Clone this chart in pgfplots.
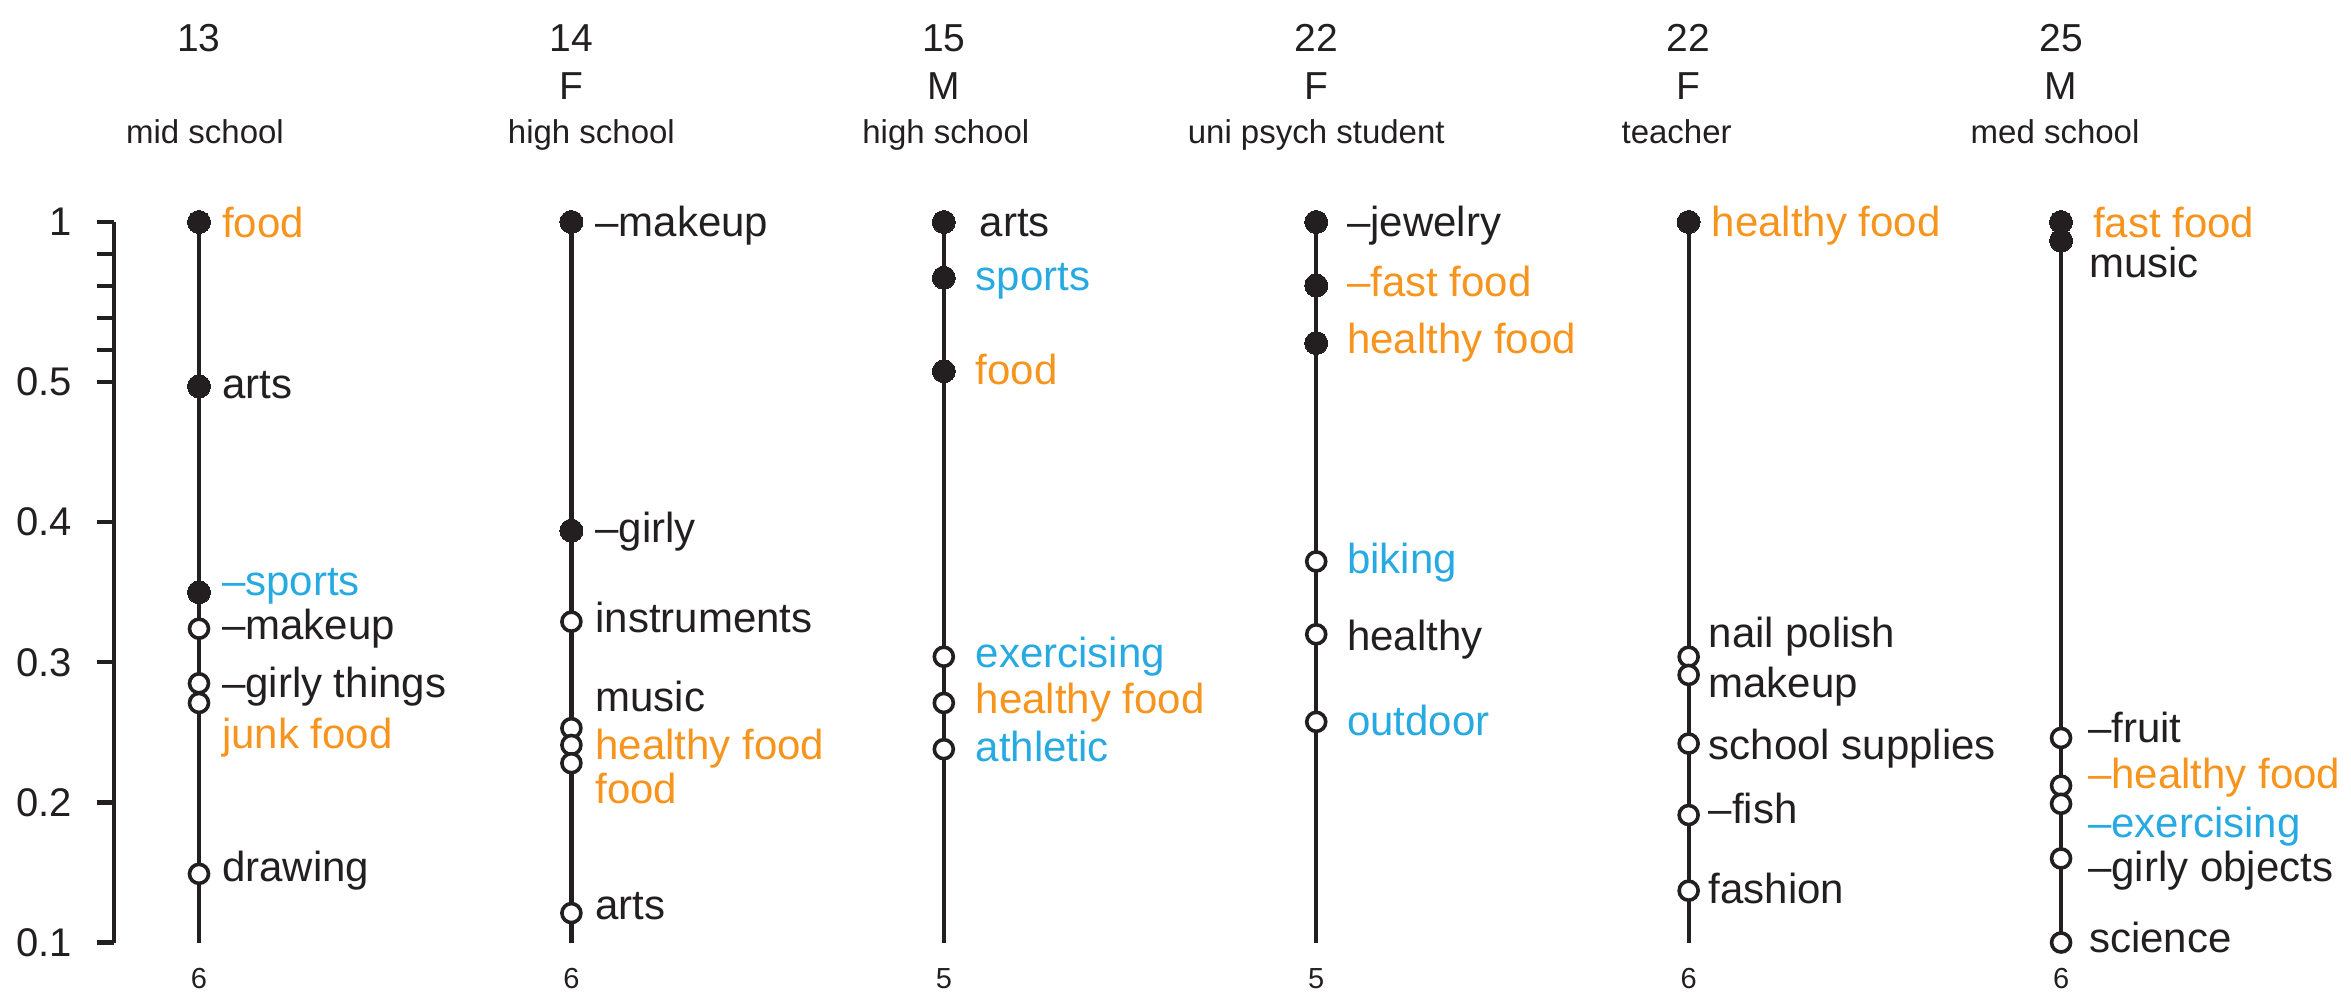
\documentclass[border=0pt]{standalone}
\usepackage{fontspec}
\setmainfont{Liberation Sans}
\usepackage{pgfplots}
\pgfplotsset{compat=1.18}

\definecolor{ink}{HTML}{231F20}
\definecolor{hlorange}{HTML}{F7941D}
\definecolor{hlblue}{HTML}{27AAE1}

% broken y scale: 0.1-0.5 linear, 0.5-1 compressed
\newcommand{\ytrafo}[2]{%
  \begingroup
  \pgfkeys{/pgf/fpu=true, /pgf/fpu/output format=fixed}%
  \pgfmathparse{ifthenelse(#1>0.5, 0.5+(#1-0.5)*#2, #1)}%
  \xdef\ytrafores{\pgfmathresult}%
  \endgroup
  \let\pgfmathresult\ytrafores}

% 1 px of the reference = 0.2pt
% \lab{column}{value}{dx px}{dy px (down)}{colour}{text}
\newcommand{\lab}[6]{\node[anchor=west, inner sep=0pt, text height=4.36pt, text depth=0pt,
  font=\fontsize{8.4}{9}\selectfont, text=#5, xshift=0.2pt*(#3), yshift=-0.2pt*(#4)]
  at (axis cs:#1,#2) {#6};}
% \head{column}{age}{sex}{description}{dx px of description}
\newcommand{\head}[5]{%
  \node[anchor=base, inner sep=0pt, font=\fontsize{7.8}{8}\selectfont, text=ink, yshift=34.06pt] at (axis cs:#1,1) {#2};
  \node[anchor=base, inner sep=0pt, font=\fontsize{7.8}{8}\selectfont, text=ink, yshift=24.4pt] at (axis cs:#1,1) {#3};
  \node[anchor=base, inner sep=0pt, font=\fontsize{6.6}{7}\selectfont, text=ink, yshift=15.74pt, xshift=0.2pt*(#5)] at (axis cs:#1,1) {#4};}
\newcommand{\cnt}[2]{\node[anchor=base, inner sep=0pt, font=\fontsize{5.8}{6}\selectfont, text=ink, yshift=-9.1pt] at (axis cs:#1,0.1) {#2};}

\begin{document}
\begin{tikzpicture}
\begin{axis}[
    scale only axis,
    width=426.64pt, height=144.1pt,
    xmin=-0.22825, xmax=5.5,
    ymin=0.1, ymax=1,
    y coord trafo/.code={\ytrafo{#1}{0.228571}},
    y coord inv trafo/.code={\ytrafo{#1}{4.375}},
    axis x line=none,
    axis y line*=left,
    y axis line style={-, line width=0.85pt, draw=ink},
    ytick={0.1,0.2,0.3,0.4,0.5,0.6,0.7,0.8,0.9,1},
    yticklabels={0.1,0.2,0.3,0.4,0.5,,,,,1},
    tick align=outside,
    major tick length=3.4pt,
    ytick style={line width=0.85pt, draw=ink},
    yticklabel style={font=\fontsize{8}{9}\selectfont, text=ink, inner sep=0pt, xshift=-4.8pt},
    clip=false,
]
% stems
\addplot[ink, line width=0.85pt] coordinates {(0,0.1) (0,1)};
\addplot[ink, line width=0.85pt] coordinates {(1,0.1) (1,1)};
\addplot[ink, line width=0.85pt] coordinates {(2,0.1) (2,1)};
\addplot[ink, line width=0.85pt] coordinates {(3,0.1) (3,1)};
\addplot[ink, line width=0.85pt] coordinates {(4,0.1) (4,1)};
\addplot[ink, line width=0.85pt] coordinates {(5,0.1) (5,1)};

% open markers
\addplot[only marks, mark=*, mark size=1.9pt, mark options={fill=white, draw=ink, line width=0.72pt}] coordinates {
  (0,0.324) (0,0.285) (0,0.271) (0,0.149)
  (1,0.329) (1,0.253) (1,0.241) (1,0.228) (1,0.121)
  (2,0.304) (2,0.271) (2,0.238)
  (3,0.372) (3,0.320) (3,0.2575)
  (4,0.304) (4,0.291) (4,0.242) (4,0.191) (4,0.137)
  (5,0.246) (5,0.212) (5,0.199) (5,0.160) (5,0.100)
};
% filled markers
\addplot[only marks, mark=*, mark size=2.3pt, mark options={fill=ink, draw=ink, line width=0pt}] coordinates {
  (0,1) (0,0.497) (0,0.35)
  (1,1) (1,0.394)
  (2,1) (2,0.826) (2,0.534)
  (3,1) (3,0.802) (3,0.622)
  (4,1)
  (5,1) (5,0.942)
};

% labels
\lab{0}{1}{22}{5}{hlorange}{food}
\lab{0}{0.497}{22}{1.5}{ink}{arts}
\lab{0}{0.35}{22}{-8}{hlblue}{\textendash sports}
\lab{0}{0.324}{22}{0}{ink}{\textendash makeup}
\lab{0}{0.285}{22}{3}{ink}{\textendash girly things}
\lab{0}{0.271}{22}{35}{hlorange}{junk food}
\lab{0}{0.149}{22}{-3}{ink}{drawing}

\lab{1}{1}{23}{4}{ink}{\textendash makeup}
\lab{1}{0.394}{23}{1}{ink}{\textendash girly}
\lab{1}{0.329}{23}{0}{ink}{instruments}
\lab{1}{0.253}{23}{-28}{ink}{music}
\lab{1}{0.241}{23}{4}{hlorange}{healthy food}
\lab{1}{0.228}{23}{29}{hlorange}{food}
\lab{1}{0.121}{23}{-4}{ink}{arts}

\lab{2}{1}{35}{4}{ink}{arts}
\lab{2}{0.826}{31}{1.5}{hlblue}{sports}
\lab{2}{0.534}{31}{2}{hlorange}{food}
\lab{2}{0.304}{31}{0}{hlblue}{exercising}
\lab{2}{0.271}{31}{0}{hlorange}{healthy food}
\lab{2}{0.238}{31}{1}{hlblue}{athletic}

\lab{3}{1}{30}{4}{ink}{\textendash jewelry}
\lab{3}{0.802}{30}{0}{hlorange}{\textendash fast food}
\lab{3}{0.622}{30}{0}{hlorange}{healthy food}
\lab{3}{0.372}{30}{1}{hlblue}{biking}
\lab{3}{0.320}{30}{5}{ink}{healthy}
\lab{3}{0.2575}{30}{3}{hlblue}{outdoor}

\lab{4}{1}{22}{4}{hlorange}{healthy food}
\lab{4}{0.304}{19}{-20}{ink}{nail polish}
\lab{4}{0.291}{19}{12}{ink}{makeup}
\lab{4}{0.242}{19}{5}{ink}{school supplies}
\lab{4}{0.191}{19}{-2}{ink}{\textendash fish}
\lab{4}{0.137}{19}{2}{ink}{fashion}

\lab{5}{1}{31}{5}{hlorange}{fast food}
\lab{5}{0.942}{27}{26}{ink}{music}
\lab{5}{0.246}{26}{-6}{ink}{\textendash fruit}
\lab{5}{0.212}{26}{-8}{hlorange}{\textendash healthy food}
\lab{5}{0.199}{26}{23}{hlblue}{\textendash exercising}
\lab{5}{0.160}{26}{12}{ink}{\textendash girly objects}
\lab{5}{0.100}{27}{-1}{ink}{science}

% headers
\head{0}{13}{}{mid school}{6}
\head{1}{14}{F}{high school}{20}
\head{2}{15}{M}{high school}{2}
\head{3}{22}{F}{uni psych student}{0}
\head{4}{22}{F}{teacher}{-12}
\head{5}{25}{M}{med school}{-6}

% counts
\cnt{0}{6}
\cnt{1}{6}
\cnt{2}{5}
\cnt{3}{5}
\cnt{4}{6}
\cnt{5}{6}

\coordinate (ll) at (rel axis cs:0,0);
\end{axis}
\pgfresetboundingbox
\path[use as bounding box] (ll) ++(-22.8pt,-12.5pt) rectangle ++(470.2pt,201pt);
\end{tikzpicture}
\end{document}
